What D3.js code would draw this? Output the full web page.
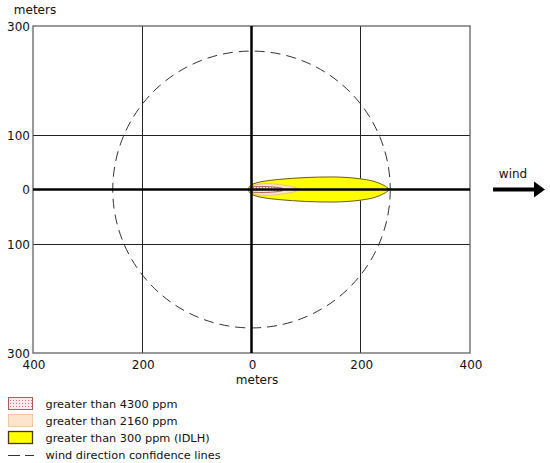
<!DOCTYPE html>
<html><head><meta charset="utf-8">
<script src="https://cdn.jsdelivr.net/npm/d3@7"></script>
<style>body{margin:0;background:#fff;}svg{display:block;font-family:"DejaVu Sans",Verdana,sans-serif;}</style>
</head><body>
<svg id="c" width="550" height="463"></svg>
<script>
// data
const xTicks = [-400, -200, 0, 200, 400];
const xTickLabels = ["400", "200", "0", "200", "400"];
const yTicks = [300, 100, 0, -100, -300];
const yTickLabels = ["300", "100", "0", "100", "300"];
const yGrid = [100, -100];
const xGrid = [-200, 200];
const confidenceRadius = 254;
// plume footprints: downwind distance (m) and half-width (m)
const idlhX = [-6, -4, 0, 10, 25, 50, 75, 100, 125, 150, 175, 200, 220, 235, 245, 253];
const idlhW = [0, 5, 8.5, 12.5, 15.5, 18.5, 20.5, 22, 22.8, 23, 22, 19.5, 16, 11, 6, 0];
const midX = [-5, -3, 0, 10, 20, 35, 50, 65, 75, 82, 88];
const midW = [0, 4, 6, 9, 10.5, 10.5, 9, 7, 5, 3, 0];
const highX = [-5, -3, 0, 15, 35, 50, 57, 60];
const highW = [0, 3, 4.5, 5.5, 5, 3.5, 2, 0];
const legendLabels = ["greater than 4300 ppm", "greater than 2160 ppm", "greater than 300 ppm (IDLH)", "wind direction confidence lines"];

const svg = d3.select("#c");
const L = 33, R = 470, T = 26, B = 353;
const x = d3.scaleLinear().domain([-400, 400]).range([L, R]);
const y = d3.scaleLinear().domain([-300, 300]).range([B, T]);

const defs = svg.append("defs");
const pat = defs.append("pattern").attr("id", "dots").attr("patternUnits", "userSpaceOnUse").attr("width", 3).attr("height", 3);
pat.append("rect").attr("width", 3).attr("height", 3).attr("fill", "#fbe9ec");
pat.append("rect").attr("x", 1).attr("y", 1).attr("width", 1).attr("height", 1).attr("fill", "#d9707e");

// grid
svg.append("g").selectAll("line").data(xGrid).join("line")
  .attr("x1", d => x(d)).attr("x2", d => x(d)).attr("y1", T).attr("y2", B)
  .attr("stroke", "#222").attr("stroke-width", 1).attr("shape-rendering", "crispEdges");
svg.append("g").selectAll("line").data(yGrid).join("line")
  .attr("y1", d => y(d)).attr("y2", d => y(d)).attr("x1", L).attr("x2", R)
  .attr("stroke", "#222").attr("stroke-width", 1).attr("shape-rendering", "crispEdges");

// frame
svg.append("rect").attr("x", L).attr("y", T).attr("width", R - L).attr("height", B - T)
  .attr("fill", "none").attr("stroke", "#555").attr("stroke-width", 1.2);

// confidence circle
svg.append("ellipse").attr("cx", x(0)).attr("cy", y(0))
  .attr("rx", x(confidenceRadius) - x(0)).attr("ry", y(0) - y(confidenceRadius))
  .attr("fill", "none").attr("stroke", "#333").attr("stroke-width", 1).attr("stroke-dasharray", "10,6");

// plumes
function plume(xs, ws) {
  const pts = xs.map((v, i) => ({x: v, w: ws[i]}));
  return d3.area().x(d => x(d.x)).y0(d => y(-d.w)).y1(d => y(d.w)).curve(d3.curveCatmullRom)(pts);
}
svg.append("path").attr("d", plume(idlhX, idlhW)).attr("fill", "#ffff00").attr("stroke", "#6e5a10").attr("stroke-width", 1);
svg.append("path").attr("d", plume(midX, midW)).attr("fill", "#fde4cc").attr("stroke", "#e0b890").attr("stroke-width", 0.8);
svg.append("path").attr("d", plume(highX, highW)).attr("fill", "url(#dots)").attr("stroke", "#a04040").attr("stroke-width", 0.8);

// zero axes
svg.append("line").attr("x1", L).attr("x2", R).attr("y1", y(0)).attr("y2", y(0)).attr("stroke", "#000").attr("stroke-width", 2.5);
svg.append("line").attr("x1", x(0)).attr("x2", x(0)).attr("y1", T).attr("y2", B).attr("stroke", "#000").attr("stroke-width", 2.5);

// tick labels
svg.append("g").selectAll("text").data(xTicks).join("text")
  .attr("x", d => x(d) + 1).attr("y", 369).attr("text-anchor", "middle")
  .attr("font-size", 12).attr("fill", "#111").text((d, i) => xTickLabels[i]);
svg.append("g").selectAll("text").data(yTicks).join("text")
  .attr("x", 30).attr("y", d => y(d) + 4.5).attr("text-anchor", "end")
  .attr("font-size", 12).attr("fill", "#111").text((d, i) => yTickLabels[i]);
svg.append("text").attr("x", 35).attr("y", 14).attr("text-anchor", "middle").attr("font-size", 12).attr("fill", "#111").text("meters");
svg.append("text").attr("x", 257).attr("y", 384).attr("text-anchor", "middle").attr("font-size", 12).attr("fill", "#111").text("meters");

// wind arrow
svg.append("text").attr("x", 513).attr("y", 178).attr("text-anchor", "middle").attr("font-size", 12).attr("fill", "#111").text("wind");
svg.append("line").attr("x1", 493).attr("x2", 536).attr("y1", y(0)).attr("y2", y(0)).attr("stroke", "#000").attr("stroke-width", 4);
svg.append("path").attr("d", `M534,${y(0) - 8}L545,${y(0)}L534,${y(0) + 8}Z`).attr("fill", "#000");

// legend
const rowY = [397, 414, 431, 448];
const leg = svg.append("g");
leg.append("rect").attr("x", 8.5).attr("y", rowY[0] + 0.5).attr("width", 24).attr("height", 12).attr("fill", "url(#dots)").attr("stroke", "#b05a5a");
leg.append("rect").attr("x", 8.5).attr("y", rowY[1] + 0.5).attr("width", 24).attr("height", 12).attr("fill", "#fde4cc").attr("stroke", "#f0c8a0");
leg.append("rect").attr("x", 8.5).attr("y", rowY[2] + 0.5).attr("width", 24).attr("height", 12).attr("fill", "#ffff00").attr("stroke", "#4a3a10").attr("stroke-width", 1.3);
leg.append("line").attr("x1", 8).attr("x2", 34).attr("y1", rowY[3] + 7.5).attr("y2", rowY[3] + 7.5).attr("stroke", "#333").attr("stroke-width", 1.2).attr("stroke-dasharray", "12,5");
leg.selectAll("text").data(legendLabels).join("text")
  .attr("x", 45.5).attr("y", (d, i) => rowY[i] + 10.5).attr("font-size", 11.3).attr("fill", "#111").text(d => d);
</script>
</body></html>
